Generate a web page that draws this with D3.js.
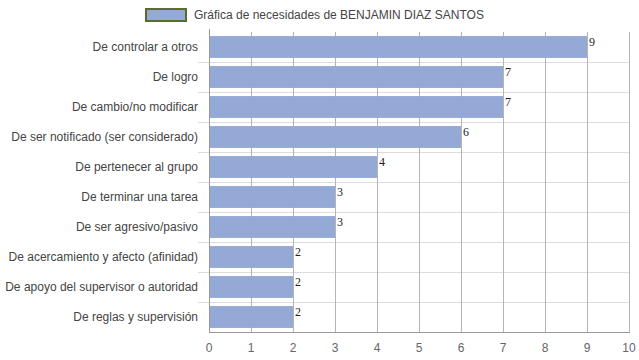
<!DOCTYPE html>
<html>
<head>
<meta charset="utf-8">
<script src="https://cdn.jsdelivr.net/npm/d3@7"></script>
<style>
  body { margin: 0; background: #fff; }
  svg { display: block; font-family: "Liberation Sans", Arial, sans-serif; }
</style>
</head>
<body>
<div class="chart"></div>
<script>
var categories = [
  "De controlar a otros",
  "De logro",
  "De cambio/no modificar",
  "De ser notificado (ser considerado)",
  "De pertenecer al grupo",
  "De terminar una tarea",
  "De ser agresivo/pasivo",
  "De acercamiento y afecto (afinidad)",
  "De apoyo del supervisor o autoridad",
  "De reglas y supervisión"
];
var values = [9, 7, 7, 6, 4, 3, 3, 2, 2, 2];
var xTicks = [0, 1, 2, 3, 4, 5, 6, 7, 8, 9, 10];
var legendLabel = "Gráfica de necesidades de BENJAMIN DIAZ SANTOS";

var svgWidth = 639;
var svgHeight = 360;
var margin = { top: 32, right: 10, bottom: 28, left: 209 };
var width = 629 - margin.left;
var height = 332 - margin.top;

var svg = d3.select(".chart")
  .append("svg")
  .attr("width", svgWidth)
  .attr("height", svgHeight);

var chartGroup = svg.append("g")
  .attr("transform", `translate(${margin.left}, ${margin.top})`);

var x = d3.scaleLinear().domain([0, 10]).range([0, width]);
var y = d3.scaleBand().domain(categories).range([0, height]).paddingInner(0.27).paddingOuter(0.135);

// horizontal grid lines at band boundaries (with tick stubs on the left)
var step = y.step();
chartGroup.append("g").selectAll("line")
  .data(d3.range(1, categories.length))
  .enter().append("line")
  .attr("x1", -11)
  .attr("x2", width)
  .attr("y1", d => Math.round(d * step) + 0.5)
  .attr("y2", d => Math.round(d * step) + 0.5)
  .attr("stroke", "#dcdcdc");

// vertical grid lines
chartGroup.append("g").selectAll("line")
  .data(xTicks.slice(1))
  .enter().append("line")
  .attr("x1", d => Math.round(x(d)) + 0.5)
  .attr("x2", d => Math.round(x(d)) + 0.5)
  .attr("y1", 0)
  .attr("y2", height)
  .attr("stroke", "#b4b4b4");

// bars
chartGroup.append("g").selectAll("rect")
  .data(values)
  .enter().append("rect")
  .attr("x", 0)
  .attr("y", (d, i) => y(categories[i]))
  .attr("width", d => x(d))
  .attr("height", y.bandwidth())
  .attr("fill", "#94a9d6");

// value labels
chartGroup.append("g").selectAll("text")
  .data(values)
  .enter().append("text")
  .attr("x", d => x(d) + 2)
  .attr("y", (d, i) => y(categories[i]) + 10)
  .attr("font-family", "Liberation Serif, Times New Roman, serif")
  .attr("font-size", "12px")
  .attr("fill", "#222")
  .text(d => d);

// left axis line
chartGroup.append("line")
  .attr("x1", 0.5).attr("x2", 0.5)
  .attr("y1", -3).attr("y2", height)
  .attr("stroke", "#999");

// bottom axis line
chartGroup.append("line")
  .attr("x1", 0).attr("x2", width + 1)
  .attr("y1", height + 0.5).attr("y2", height + 0.5)
  .attr("stroke", "#999");

// category labels
chartGroup.append("g").selectAll("text")
  .data(categories)
  .enter().append("text")
  .attr("x", -11)
  .attr("y", d => y(d) + y.bandwidth() / 2)
  .attr("dy", "0.35em")
  .attr("text-anchor", "end")
  .attr("font-size", "12px")
  .attr("fill", "#444")
  .text(d => d);

// x tick labels
chartGroup.append("g").selectAll("text")
  .data(xTicks)
  .enter().append("text")
  .attr("x", d => x(d))
  .attr("y", height + 20)
  .attr("text-anchor", "middle")
  .attr("font-size", "12px")
  .attr("fill", "#666")
  .text(d => d);

// legend
var legend = svg.append("g").attr("transform", "translate(146, 9)");
legend.append("rect")
  .attr("width", 40)
  .attr("height", 12)
  .attr("fill", "#94a9d6")
  .attr("stroke", "#5b6b2a")
  .attr("stroke-width", 2);
legend.append("text")
  .attr("x", 48)
  .attr("y", 10)
  .attr("font-size", "12px")
  .attr("fill", "#444")
  .text(legendLabel);
</script>
</body>
</html>
